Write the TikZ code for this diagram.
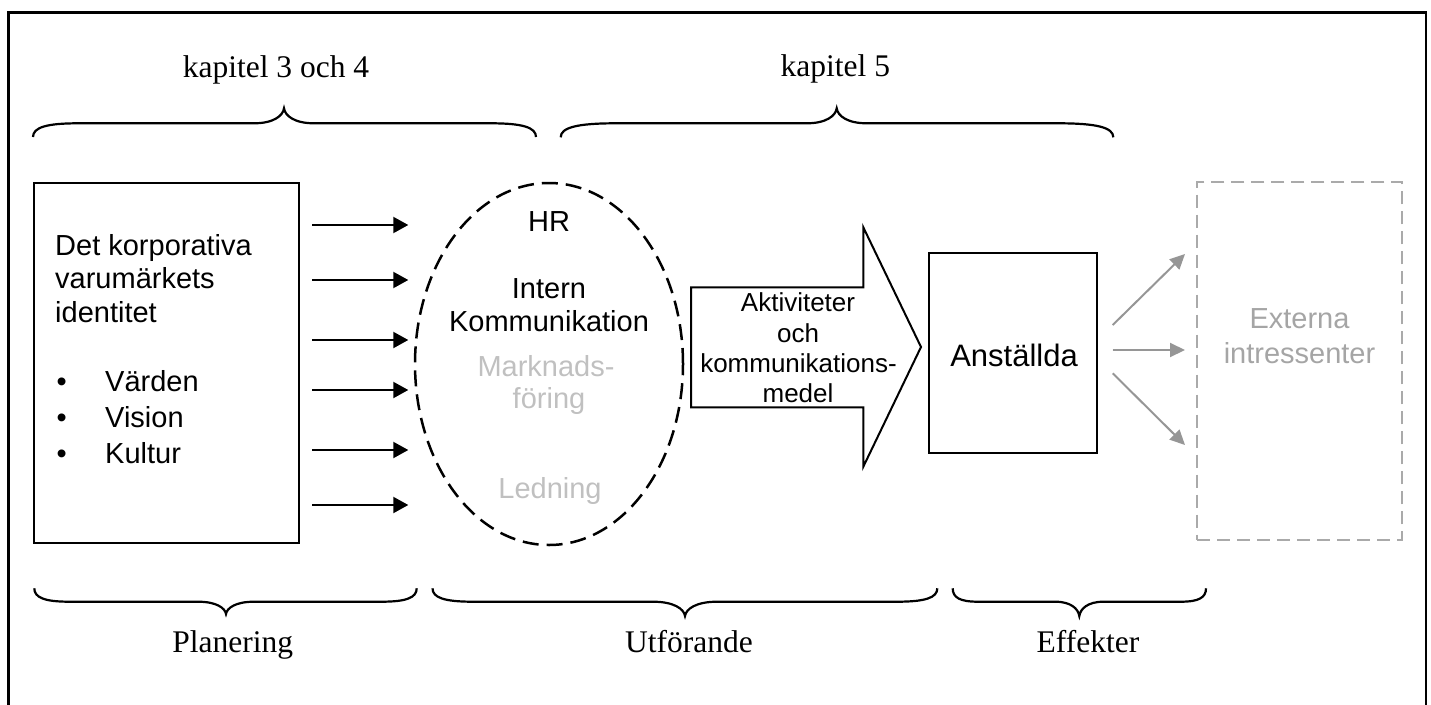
\documentclass[tikz,border=0pt]{standalone}
\usepackage{fontspec}
\setmainfont{Liberation Serif}
\setsansfont{Liberation Sans}
\usetikzlibrary{arrows.meta,shapes.geometric}
\definecolor{lgray}{RGB}{192,192,192}
\definecolor{tgray}{RGB}{165,165,165}
\definecolor{agray}{RGB}{150,150,150}
\definecolor{bgray}{RGB}{170,170,170}
% x1 x2 xm ye yf yp curl tipw
\newcommand\mybrace[8]{%
  \draw[bracestyle] (#1,#4) .. controls (#1,{#5+0.3*(#4-#5)}) and ({#1+0.3*#7},#5) .. ({#1+#7},#5)
    -- ({#3-#8},#5) .. controls ({#3-0.35*#8},#5) and ({#3-1},{(#5+#6)/2}) .. (#3,#6)
    .. controls ({#3+1},{(#5+#6)/2}) and ({#3+0.35*#8},#5) .. ({#3+#8},#5)
    -- ({#2-#7},#5) .. controls ({#2-0.3*#7},#5) and (#2,{#5+0.3*(#4-#5)}) .. (#2,#4);}
\begin{document}
\begin{tikzpicture}[x=1pt,y=-1pt,
  bracestyle/.style={line width=2.2pt},
  lbl/.style={font=\fontsize{31.5}{36}\selectfont, inner sep=0pt, anchor=base},
  sans/.style={font=\sffamily\fontsize{29}{34}\selectfont, inner sep=0pt},
  arrtxt/.style={font=\sffamily\fontsize{26}{30}\selectfont, inner sep=0pt, anchor=base},
  blk/.style={-{Triangle[length=15pt,width=16pt]}, line width=2pt},
  gry/.style={-{Triangle[length=15pt,width=14pt]}, line width=2pt, draw=agray, fill=agray},
  solidbox/.style={draw, line width=2pt, minimum width=#1, inner sep=0pt},
]
\useasboundingbox (0,0) rectangle (1431,704);
\clip (0,0) rectangle (1431,704);
% outer frame
\draw[line width=2.5pt] (8.3,12.5) rectangle (1426,720);

% top labels and braces
\node[lbl] (k34) at (276,77) {kapitel 3 och 4};
\node[lbl] (k5) at (835.3,76.7) {kapitel 5};
\mybrace{33}{536}{284}{137}{123.3}{108.3}{45}{30}
\mybrace{560.7}{1113.3}{836.7}{137.3}{123.3}{108.3}{55}{30}

% bottom braces and labels
\mybrace{34.3}{416.7}{226}{588.3}{601.7}{614}{35}{28}
\mybrace{432.5}{937.3}{685}{588.3}{601.7}{616}{40}{32}
\mybrace{952.7}{1206}{1079.3}{588.3}{601.7}{616}{25}{24}
\node[lbl] (plan) at (232.8,652.7) {Planering};
\node[lbl] (utf) at (689,652.7) {Utförande};
\node[lbl] (eff) at (1088,652.7) {Effekter};

% left box
\node[solidbox=265pt, minimum height=360pt] (corp) at (166.5,363) {};
\node[sans, anchor=base west] (c1) at (55,255) {Det korporativa};
\node[sans, anchor=base west] (c2) at (55,288.3) {varumärkets};
\node[sans, anchor=base west] (c3) at (55,322.7) {identitet};
\node[sans, anchor=base] (b1) at (61.7,391.7) {•};
\node[sans, anchor=base] (b2) at (61.7,427.3) {•};
\node[sans, anchor=base] (b3) at (61.7,463.3) {•};
\node[sans, anchor=base west] (v1) at (105,391.7) {Värden};
\node[sans, anchor=base west] (v2) at (105,427.3) {Vision};
\node[sans, anchor=base west] (v3) at (105,463.3) {Kultur};

% ellipse
\node[draw, ellipse, line width=2.5pt, dash pattern=on 16pt off 8pt,
      minimum width=268pt, minimum height=362pt, inner sep=0pt] (ell) at (549,364) {};
\node[sans, anchor=base] (e1) at (549,231.7) {HR};
\node[sans, anchor=base] (e2) at (549,298.3) {Intern};
\node[sans, anchor=base] (e3) at (549,331.7) {Kommunikation};
\node[sans, anchor=base, text=lgray] (e4) at (546,376.7) {Marknads-};
\node[sans, anchor=base, text=lgray] (e5) at (549,408.3) {föring};
\node[sans, anchor=base, text=lgray] (e6) at (550,498.3) {Ledning};

% arrows from box to ellipse
\foreach \i/\yy in {1/225,2/280,3/340,4/390,5/450,6/505}{
  \coordinate (s\i) at (312.3,\yy);
  \coordinate (t\i) at (408.3,\yy);
  \draw[blk] (s\i) -- (t\i);
}

% big block arrow
\draw[line width=2pt, line join=miter] (691,287.3) -- (863.3,287.3) -- (863.3,227.3) -- (921,347)
  -- (863.3,466.7) -- (863.3,407.3) -- (691,407.3) -- cycle;
\node[arrtxt] (a1) at (798,311.7) {Aktiviteter};
\node[arrtxt] (a2) at (798,342.7) {och};
\node[arrtxt] (a3) at (798.5,372.7) {kommunikations-};
\node[arrtxt] (a4) at (798,402.3) {medel};

% employees box
\node[solidbox=168.3pt, minimum height=200.3pt] (anst) at (1013.2,353.2) {};
\node[font=\sffamily\fontsize{31}{36}\selectfont, inner sep=0pt, anchor=base] (anstt) at (1014,366.7) {Anställda};

% external stakeholders
\node[draw=bgray, line width=2pt, dash pattern=on 13pt off 7pt,
      minimum width=204.4pt, minimum height=358.3pt, inner sep=0pt] (ext) at (1299.5,360.9) {};
\node[sans, anchor=base, text=tgray] (x1) at (1299.5,328) {Externa};
\node[sans, anchor=base, text=tgray] (x2) at (1299.5,363.3) {intressenter};

\coordinate (g1s) at (1112.7,325);   \coordinate (g1t) at (1185,254);
\coordinate (g2s) at (1112.7,350);   \coordinate (g2t) at (1185,350);
\coordinate (g3s) at (1112.7,373.3); \coordinate (g3t) at (1185,445);
\draw[gry] (g1s) -- (g1t);
\draw[gry] (g2s) -- (g2t);
\draw[gry] (g3s) -- (g3t);
\end{tikzpicture}
\end{document}
